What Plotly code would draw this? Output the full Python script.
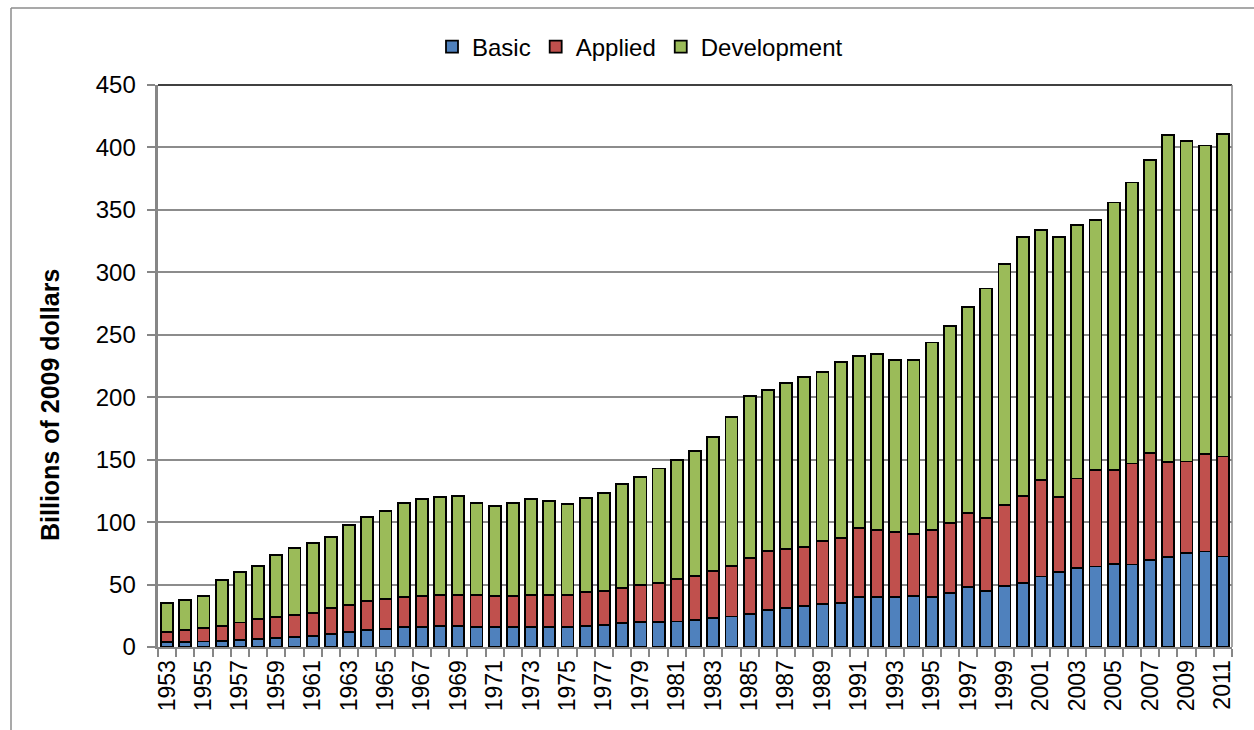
import plotly.graph_objects as go

years = list(range(1953, 2012))

basic = [3.7, 4.0, 4.4, 5.0, 5.8, 6.5, 7.3, 8.0, 9.1, 10.7, 12.0, 13.6, 14.7, 15.7, 16.3, 16.5,
         16.8, 16.3, 16.3, 16.3, 16.3, 16.3, 16.3, 16.8, 17.6, 19.2, 19.8, 20.0, 20.5, 21.6, 23.0, 24.5,
         26.4, 29.9, 31.5, 32.6, 34.4, 35.2, 40.3, 39.8, 40.3, 41.0, 40.3, 43.5, 48.3,
         45.0, 49.0, 51.0, 56.5, 60.0, 63.5, 64.5, 66.5, 66.0, 69.5, 72.0, 75.5, 76.5, 72.5]

applied = [8.6, 9.6, 10.6, 12.0, 13.9, 15.9, 16.7, 17.6, 17.9, 20.5, 21.6, 23.2, 23.7, 24.6, 24.7, 25.4,
           24.8, 25.3, 24.3, 24.3, 25.3, 25.3, 25.6, 27.0, 27.5, 28.0, 29.6, 31.5, 33.7, 35.2, 37.8, 40.6,
           44.6, 46.7, 46.7, 47.5, 50.5, 52.1, 55.2, 53.9, 51.5, 49.2, 53.6, 56.0, 59.2,
           58.5, 64.5, 70.0, 77.0, 60.0, 71.5, 77.5, 75.5, 81.0, 86.0, 76.0, 73.0, 78.0, 80.0]

development = [22.7, 24.0, 26.0, 36.6, 40.6, 42.5, 49.4, 53.4, 56.0, 57.1, 63.8, 67.5, 70.5, 75.0, 77.7, 78.1,
               79.0, 74.0, 72.6, 75.0, 76.6, 75.3, 72.6, 75.7, 78.4, 83.0, 87.0, 91.5, 95.3, 100.4, 107.3, 119.3,
               129.7, 129.4, 133.2, 136.1, 135.3, 140.6, 137.7, 140.9, 138.0, 139.3, 150.0, 157.7, 164.5,
               183.5, 193.0, 207.0, 200.5, 208.5, 203.0, 200.0, 214.0, 225.0, 234.5, 262.0, 256.5, 247.0, 258.5]

series_names = ["Basic", "Applied", "Development"]
series_colors = ["#4F81BD", "#C0504D", "#9BBB59"]

tick_years = years[::2]
tick_labels = [str(y) for y in tick_years]

y_title = "Billions of 2009 dollars"

FONT = "Liberation Sans, Arial, sans-serif"
L, R, T, B = 158, 22, 85, 83
PW, PH = 1254 - L - R, 730 - T - B

fig = go.Figure()
for name, vals, col in zip(series_names, [basic, applied, development], series_colors):
    fig.add_trace(go.Bar(
        x=years, y=vals, name=name,
        marker=dict(color=col, line=dict(color="black", width=1.8)),
    ))

fig.update_layout(
    width=1254, height=730,
    barmode="stack", bargap=0.34,
    paper_bgcolor="white", plot_bgcolor="white",
    margin=dict(l=L, r=R, t=T, b=B),
    font=dict(family=FONT, size=24, color="black"),
    showlegend=True,
    legend=dict(
        orientation="h", x=640 / 1254, xanchor="center", xref="container",
        y=1 - 47 / 730, yanchor="middle", yref="container",
        font=dict(size=24), itemwidth=30, tracegroupgap=0,
        traceorder="normal",
    ),
    xaxis=dict(
        range=[1952.5, 2011.5], automargin=False,
        tickmode="array", tickvals=tick_years, ticktext=tick_labels,
        tickangle=-90, ticks="outside", ticklen=2, tickcolor="rgba(0,0,0,0)",
        showgrid=False,
        tickfont=dict(size=23),
        showline=True, linecolor="#868686", linewidth=2,
        minor=dict(tick0=1952.5, dtick=1, ticks="outside", ticklen=8,
                   tickcolor="#868686", tickwidth=1.5, showgrid=False),
        zeroline=False,
    ),
    yaxis=dict(
        range=[0, 450], dtick=50, tick0=0, automargin=False,
        ticks="outside", ticklen=8, tickcolor="#868686", tickwidth=1.5,
        showgrid=True, gridcolor="#8c8c8c", gridwidth=1.5,
        showline=True, linecolor="#868686", linewidth=2.5,
        zeroline=False, ticksuffix=" ",
        tickfont=dict(size=24),
    ),
    annotations=[
        dict(text="<b>" + y_title + "</b>", xref="paper", yref="paper",
             x=(50 - L) / PW, y=(647 - 405) / PH, textangle=-90,
             showarrow=False, font=dict(size=25), xanchor="center", yanchor="middle"),
    ],
    shapes=[
        dict(type="line", xref="paper", yref="paper", x0=0, x1=1, y0=1, y1=1,
             line=dict(color="black", width=1.5)),
        dict(type="line", xref="paper", yref="paper", x0=1, x1=1, y0=0, y1=1,
             line=dict(color="#868686", width=1.5)),
        dict(type="line", xref="paper", yref="paper",
             x0=(11 - L) / PW, x1=(1254 - L) / PW,
             y0=1 + (T - 8) / PH, y1=1 + (T - 8) / PH,
             line=dict(color="#8c8c8c", width=1.5)),
        dict(type="line", xref="paper", yref="paper",
             x0=(11 - L) / PW, x1=(11 - L) / PW,
             y0=1 + (T - 8) / PH, y1=-B / PH,
             line=dict(color="#8c8c8c", width=1.5)),
    ],
)

fig.write_html("out.html", config={"displayModeBar": False},
               post_script="document.body.style.margin='0';document.body.style.overflow='hidden';")
